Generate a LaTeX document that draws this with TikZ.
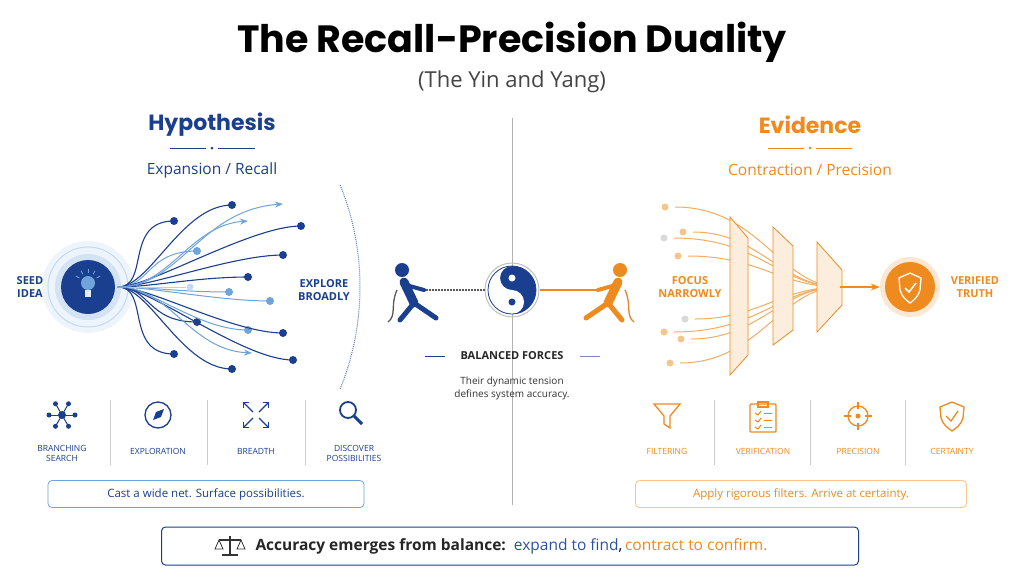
\documentclass[tikz,border=0pt]{standalone}
\usepackage{fontspec}
\setmainfont{Open Sans}
\newfontfamily\titlefont{Poppins}
\usetikzlibrary{arrows.meta}
\definecolor{dblue}{HTML}{1B3F8F}
\definecolor{lblue}{HTML}{6FA3DA}
\definecolor{orng}{HTML}{EE8A1E}
\definecolor{lorng}{HTML}{F7C58A}
\definecolor{gtxt}{HTML}{444444}
\tikzset{
 bdot/.style={circle,fill=dblue,inner sep=0,minimum size=8pt},
 ldot/.style={circle,fill=lblue,inner sep=0,minimum size=8pt},
 br/.style={dblue,line width=1.1pt},
 lbr/.style={lblue,line width=1pt},
 obr/.style={orng!70,line width=1pt},
 lab/.style={font=\bfseries\fontsize{11}{13}\selectfont,align=center},
 small/.style={font=\fontsize{8.5}{10}\selectfont,align=center},
 sep/.style={gray!40,line width=0.6pt},
 panel/.style={draw=orng,line width=0.8pt,fill=orng!15},
 icb/.style={dblue,line width=1.3pt},
 ico/.style={orng,line width=1.3pt},
}
\begin{document}
\begin{tikzpicture}[x=1pt,y=-1pt]
\useasboundingbox (0,0) rectangle (1024,576);
\fill[white] (0,0) rectangle (1024,576);
% titles
\node (title) at (512,42) {\titlefont\bfseries\fontsize{38}{44}\selectfont The Recall-Precision Duality};
\node[text=gtxt] (sub) at (512,82) {\fontsize{22}{26}\selectfont (The Yin and Yang)};
\draw[gray!60,line width=0.7pt] (512,118) -- (512,505);
% left header
\node[text=dblue] (hyp) at (212,125) {\titlefont\bfseries\fontsize{22}{26}\selectfont Hypothesis};
\draw[dblue,line width=0.6pt] (170,148) -- (206,148) (218,148) -- (255,148);
\fill[dblue] (212,148) circle (1.5);
\node[text=dblue] (exp) at (212,170) {\fontsize{15.5}{18}\selectfont Expansion / Recall};
% right header
\node[text=orng] (evi) at (810,125) {\titlefont\bfseries\fontsize{22}{26}\selectfont Evidence};
\draw[orng,line width=0.6pt] (768,148) -- (804,148) (816,148) -- (852,148);
\fill[orng] (810,148) circle (1.5);
\node[text=orng] (con) at (810,170) {\fontsize{15.5}{18}\selectfont Contraction / Precision};
% seed
\fill[lblue!12] (88,287) circle (46);
\draw[lblue!40,line width=1pt] (88,287) circle (40);
\fill[lblue!30] (88,287) circle (33);
\node[circle,fill=dblue,minimum size=54pt,inner sep=0] (seed) at (88,287) {};
\fill[lblue] (88,283) circle (7);
\fill[white!80!lblue] (85,290) rectangle (91,297);
\foreach \a in {30,60,90,120,150}{\draw[lblue,line width=0.8pt] (88,283) ++(\a:-10) -- ++(\a:-4);}
\node[lab,text=dblue] (seedl) at (30,287) {SEED\\IDEA};
% branches
\coordinate (o) at (118,287);
\foreach \x/\y/\s/\d in {174/221/br/bdot,197/251/lbr/ldot,248/277/br/bdot,229/292/lbr/ldot,197/322/br/bdot,174/354/br/bdot,270/301/lbr/ldot,301/226/br/bdot,283/255/br/bdot,248/330/lbr/ldot,283/333/br/bdot,293/360/br/bdot,232/369/br/bdot,232/205/br/bdot}{
  \draw[\s] (o) .. controls (150,287) and (\x-50,\y) .. (\x,\y);
  \node[\d] at (\x,\y) {};}
\node[circle,fill=lblue!40,inner sep=0,minimum size=7pt] (faint) at (190,287) {};
\draw[lblue!50,line width=1pt] (o) -- (faint);
\coordinate (a1) at (283,204); \coordinate (a2) at (248,221); \coordinate (a3) at (252,353);
\draw[lbr,-{Stealth[length=8pt]}] (o) .. controls (180,287) and (200,210) .. (a1);
\draw[lbr,-{Stealth[length=8pt]}] (o) .. controls (170,287) and (190,225) .. (a2);
\draw[lbr,-{Stealth[length=8pt]}] (o) .. controls (170,287) and (190,350) .. (a3);
\draw[dblue!70,densely dotted,line width=1pt] (88,287) ++(-22:272) arc[start angle=-22,end angle=22,radius=272];
\node[lab,text=dblue] (explore) at (324,290) {EXPLORE\\BROADLY};
% yin yang
\node[circle,draw=gray!50,line width=1pt,minimum size=54pt,inner sep=0] (yy) at (512,290) {};
\begin{scope}[shift={(512,290)},yscale=-1]
\fill[dblue] (0,0) circle (24);
\fill[white] (0,24) arc[start angle=90,end angle=270,radius=24] arc[start angle=270,end angle=450,radius=12] arc[start angle=270,end angle=90,radius=12];
\fill[white] (0,12) circle (3.5);
\fill[dblue] (0,-12) circle (3.5);
\draw[dblue,line width=0.8pt] (0,0) circle (24);
\end{scope}
\draw[gray!70!black,line width=1.6pt,dash pattern=on 2pt off 1pt] (420,290) -- (yy.west);
\draw[orng,line width=1.6pt] (yy.east) -- (600,290);
% blue puller
\fill[dblue] (402,270) circle (7);
\draw[dblue,line width=9pt,line cap=round] (404,282) -- (414,303);
\draw[dblue,line width=5pt,line cap=round] (414,303) -- (400,320) (414,303) -- (436,318);
\draw[dblue,line width=4pt,line cap=round] (406,285) -- (424,290);
\draw[gray!70!black,line width=1.3pt] (397,290) .. controls (390,305) and (397,315) .. (388,322);
% orange puller
\fill[orng] (620,270) circle (7);
\draw[orng,line width=9pt,line cap=round] (618,282) -- (608,303);
\draw[orng,line width=5pt,line cap=round] (608,303) -- (622,320) (608,303) -- (586,318);
\draw[orng,line width=4pt,line cap=round] (616,285) -- (598,290);
\draw[orng!70!brown,line width=1.3pt] (625,290) .. controls (632,305) and (625,315) .. (634,322);
% balanced
\node[font=\bfseries\fontsize{11}{13}\selectfont,text=black!85] (bal) at (512,356) {BALANCED FORCES};
\draw[dblue,line width=0.8pt] (425,356) -- (445,356);
\draw[dblue!60,line width=0.8pt] (580,356) -- (600,356);
\node[font=\fontsize{10}{13}\selectfont,align=center,text=black!80] (tens) at (512,388) {Their dynamic tension\\defines system accuracy.};
% right funnel
\coordinate (c) at (840,287);
\foreach \x/\y/\cl in {665/207/lorng,683/232/lorng,678/256/lorng,685/319/gray!30,664/332/lorng,681/339/lorng,670/363/lorng,664/238/gray!30}{
  \node[circle,fill=\cl,inner sep=0,minimum size=7pt] at (\x,\y) {};
  \draw[obr] (\x+10,\y) .. controls (760,\y) and (780,287) .. (c);}
\draw[panel] (730,217) -- (748,238) -- (748,355) -- (730,375) -- cycle;
\draw[panel] (773,227) -- (793,246) -- (793,330) -- (773,345) -- cycle;
\draw[panel] (817,242) -- (842,270) -- (842,305) -- (817,332) -- cycle;
\node[circle,fill=orng!20,minimum size=60pt,inner sep=0] (truthh) at (910,287) {};
\node[circle,fill=orng,minimum size=50pt,inner sep=0] (truth) at (910,287) {};
\draw[orng,line width=1.6pt,-{Stealth[length=9pt]}] (c) -- (truthh.west);
\draw[white,line width=1.3pt] (910,273) -- (921,278) -- (920,290) .. controls (918,297) and (914,300) .. (910,303) .. controls (906,300) and (902,297) .. (900,290) -- (899,278) -- cycle;
\draw[white,line width=1.5pt] (905,288) -- (909,292) -- (916,283);
\node[lab,text=orng] (ver) at (975,287) {VERIFIED\\TRUTH};
\node[lab,text=orng] (foc) at (690,287) {FOCUS\\NARROWLY};
% separators
\foreach \x in {110,207,305,714,810,905}{\draw[sep] (\x,400) -- (\x,465);}
% left icons
\fill[dblue] (62,415) circle (4);
\foreach \a in {0,60,...,300}{\draw[icb,line width=1pt] (62,415) -- ++(\a:12); \fill[dblue] (62,415) ++(\a:13) circle (2.5);}
\node[small,text=dblue] (l1) at (62,453) {BRANCHING\\SEARCH};
\draw[icb] (158,415) circle (13);
\fill[dblue] (153,420) -- (156,412) -- (164,409) -- (161,417) -- cycle;
\node[small,text=dblue] (l2) at (158,451) {EXPLORATION};
\foreach \dx/\dy in {1/1,1/-1,-1/1,-1/-1}{\draw[icb,-{Straight Barb[length=4pt]}] (256+3*\dx,415+3*\dy) -- (256+13*\dx,415+13*\dy);}
\node[small,text=dblue] (l3) at (256,451) {BREADTH};
\draw[icb,line width=1.8pt] (348,410) circle (8);
\draw[icb,line width=3pt] (354,416) -- (362,424);
\node[small,text=dblue] (l4) at (354,453) {DISCOVER\\POSSIBILITIES};
% right icons
\draw[ico] (654,404) -- (680,404) -- (670,416) -- (670,428) -- (664,424) -- (664,416) -- cycle;
\node[small,text=orng] (r1) at (667,451) {FILTERING};
\draw[ico,rounded corners=1pt] (750,404) rectangle (776,432);
\draw[ico] (758,402) rectangle (768,407);
\foreach \y in {413,420,427}{\draw[ico,line width=1pt] (755,\y) -- (758,\y+2) -- (761,\y-2); \draw[ico,line width=1pt] (764,\y) -- (772,\y);}
\node[small,text=orng] (r2) at (763,451) {VERIFICATION};
\draw[ico] (858,416) circle (10); \fill[orng] (858,416) circle (2.5);
\draw[ico] (858,402) -- (858,409) (858,423) -- (858,430) (844,416) -- (851,416) (865,416) -- (872,416);
\node[small,text=orng] (r3) at (858,451) {PRECISION};
\draw[ico] (952,402) -- (964,407) -- (963,418) .. controls (961,425) and (956,428) .. (952,431) .. controls (948,428) and (943,425) .. (941,418) -- (940,407) -- cycle;
\draw[ico] (946,416) -- (951,421) -- (958,411);
\node[small,text=orng] (r4) at (952,451) {CERTAINTY};
% boxes
\node[draw=lblue,rounded corners=4pt,line width=0.8pt,minimum width=316pt,minimum height=27pt,font=\fontsize{11.5}{13}\selectfont,text=dblue] (lbox) at (206,494) {Cast a wide net. Surface possibilities.};
\node[draw=lorng,rounded corners=4pt,line width=0.8pt,minimum width=331pt,minimum height=27pt,font=\fontsize{11.5}{13}\selectfont,text=orng] (rbox) at (801,494) {Apply rigorous filters. Arrive at certainty.};
\node[draw=dblue,rounded corners=4pt,line width=1pt,minimum width=697pt,minimum height=38pt] (bbox) at (510,546) {};
\node[anchor=west,font=\fontsize{15.5}{18}\selectfont] (btxt) at (252,546) {\textbf{\color{black!85}Accuracy emerges from balance:}\ \ {\color{dblue!80!lblue}expand to find},\,{\color{orng}contract to confirm.}};
% scale icon
\draw[black!80,line width=1.2pt] (230,536) -- (230,555) (222,555) -- (238,555) (219,540) -- (241,540);
\draw[black!80,line width=0.8pt] (219,540) -- (215,549) -- (223,549) -- cycle (241,540) -- (237,549) -- (245,549) -- cycle;
\end{tikzpicture}
\end{document}
